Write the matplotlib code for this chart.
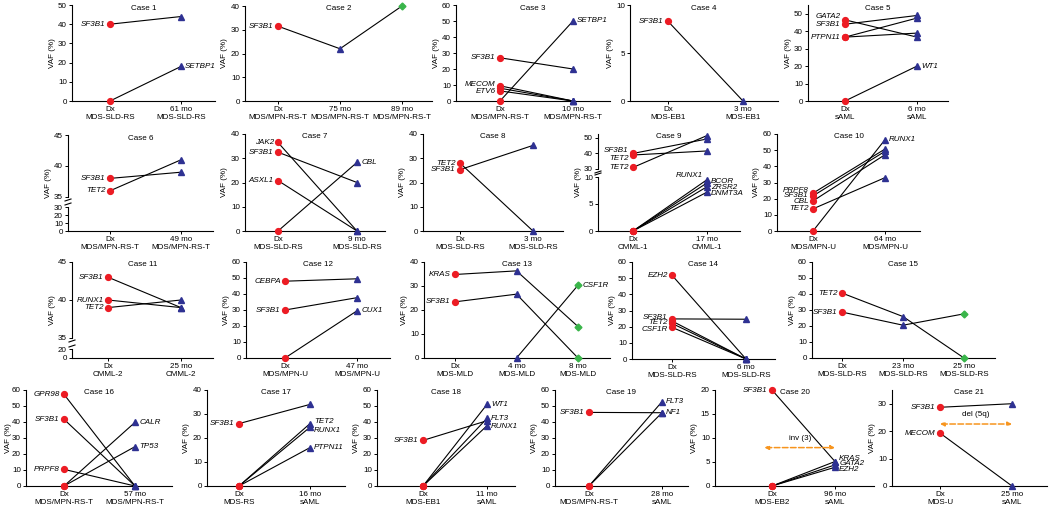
import matplotlib
matplotlib.use('Agg')
from matplotlib import pyplot as plt
from matplotlib.lines import Line2D

plt.rcParams['font.family'] = ['Liberation Sans', 'DejaVu Sans']
FS = 5.8
W, H = 1050, 509

RED = '#ec1c24'
NAVY = '#2e3192'
GREEN = '#39b54a'
ORANGE = '#f7941d'

# ---- data (VAF %, one value per time point, None = not measured) ----
case1_times = ['Dx\nMDS-SLD-RS', '61 mo\nMDS-SLD-RS']
case1_genes = ['SF3B1', 'SETBP1']
case1_vaf = [[40, 44], [0, 18]]

case2_times = ['Dx\nMDS/MPN-RS-T', '75 mo\nMDS/MPN-RS-T', '89 mo\nMDS/MPN-RS-T']
case2_genes = ['SF3B1']
case2_vaf = [[31.5, 22, 40]]

case3_times = ['Dx\nMDS/MPN-RS-T', '10 mo\nMDS/MPN-RS-T']
case3_genes = ['SF3B1', 'MECOM', '', 'ETV6', 'SETBP1']
case3_vaf = [[27, 20], [9.5, 0], [8, 0], [6.3, 0], [0, 50]]

case4_times = ['Dx\nMDS-EB1', '3 mo\nMDS-EB1']
case4_genes = ['SF3B1']
case4_vaf = [[8.3, 0]]

case5_times = ['Dx\nsAML', '6 mo\nsAML']
case5_genes = ['GATA2', 'SF3B1', 'PTPN11', '', 'WT1']
case5_vaf = [[46.5, 36.6], [44, 49], [36.6, 47.5], [36.6, 38.9], [0, 20]]

case6_times = ['Dx\nMDS/MPN-RS-T', '49 mo\nMDS/MPN-RS-T']
case6_genes = ['SF3B1', 'TET2']
case6_vaf = [[38, 39], [36, 41]]

case7_times = ['Dx\nMDS-SLD-RS', '9 mo\nMDS-SLD-RS']
case7_genes = ['JAK2', 'SF3B1', 'ASXL1', 'CBL']
case7_vaf = [[36.5, 0], [32.5, 20], [20.8, 0], [0, 28.3]]

case8_times = ['Dx\nMDS-SLD-RS', '3 mo\nMDS-SLD-RS']
case8_genes = ['TET2', 'SF3B1']
case8_vaf = [[28, 0], [25.3, 35.3]]

case9_times = ['Dx\nCMML-1', '17 mo\nCMML-1']
case9_genes = ['SF3B1', 'TET2', 'TET2', 'RUNX1', 'BCOR', 'ZRSR2', 'DNMT3A']
case9_vaf = [[40, 49.3], [39, 41.6], [31, 51.5],
             [0, 9.5], [0, 8.9], [0, 8.2], [0, 7.2]]

case10_times = ['Dx\nMDS/MPN-U', '64 mo\nMDS/MPN-U']
case10_genes = ['PRPF8', 'SF3B1', 'CBL', 'TET2', 'RUNX1']
case10_vaf = [[23.4, 50.7], [21.7, 49.3], [18.6, 47.2], [13.7, 33], [0, 56.5]]

case11_times = ['Dx\nCMML-2', '25 mo\nCMML-2']
case11_genes = ['SF3B1', 'RUNX1', 'TET2']
case11_vaf = [[43, 39], [40, 39], [39, 40]]

case12_times = ['Dx\nMDS/MPN-U', '47 mo\nMDS/MPN-U']
case12_genes = ['CEBPA', 'SF3B1', 'CUX1']
case12_vaf = [[48, 49.5], [30, 37.7], [0, 29.5]]

case13_times = ['Dx\nMDS-MLD', '4 mo\nMDS-MLD', '8 mo\nMDS-MLD']
case13_genes = ['KRAS', 'SF3B1', 'CSF1R']
case13_vaf = [[34.8, 36.3, 13.1], [23.4, 26.6, 0], [None, 0, 30.3]]

case14_times = ['Dx\nMDS-SLD-RS', '6 mo\nMDS-SLD-RS']
case14_genes = ['EZH2', 'SF3B1', 'TET2', '', 'CSF1R']
case14_vaf = [[51.8, 0], [24.8, 24.6], [23.5, 0], [22, 0], [19.6, 0]]

case15_times = ['Dx\nMDS-SLD-RS', '23 mo\nMDS-SLD-RS', '25 mo\nMDS-SLD-RS']
case15_genes = ['TET2', 'SF3B1']
case15_vaf = [[40.6, 25.9, 0], [28.7, 20.5, 27.6]]

case16_times = ['Dx\nMDS/MPN-RS-T', '57 mo\nMDS/MPN-RS-T']
case16_genes = ['GPR98', 'SF3B1', 'PRPF8', 'CALR', 'TP53']
case16_vaf = [[57.3, 0], [41.7, 0], [10.4, 0], [0, 39.8], [0, 24.6]]

case17_times = ['Dx\nMDS-RS', '16 mo\nsAML']
case17_genes = ['SF3B1', 'TET2', 'RUNX1', 'PTPN11']
case17_vaf = [[26, 34], [0, 26], [0, 24.5], [0, 16]]

case18_times = ['Dx\nMDS-EB1', '11 mo\nsAML']
case18_genes = ['SF3B1', 'WT1', 'FLT3', 'RUNX1']
case18_vaf = [[28.5, 40.8], [0, 51], [0, 42.3], [0, 37.7]]

case19_times = ['Dx\nMDS/MPN-RS-T', '28 mo\nsAML']
case19_genes = ['SF3B1', 'FLT3', 'NF1']
case19_vaf = [[46, 45.8], [0, 52.7], [0, 45.8]]

case20_times = ['Dx\nMDS-EB2', '96 mo\nsAML']
case20_genes = ['SF3B1', 'KRAS', 'GATA2', 'EZH2']
case20_vaf = [[20, 5.1], [0, 5.1], [0, 4.4], [0, 3.9]]
case20_event = ('inv (3)', 8)

case21_times = ['Dx\nMDS-U', '25 mo\nsAML']
case21_genes = ['SF3B1', 'MECOM']
case21_vaf = [[28.7, 30], [19.3, 0]]
case21_event = ('del (5q)', 22.6)

# ---- layout: box = (spine px, first point px, last point px, axis end px)
panels = [
    dict(title='Case 1', times=case1_times, genes=case1_genes, vaf=case1_vaf,
         sides='LR', box=(72, 110, 181, 215), rows=(5, 101), ylim=(0, 50), yticks=range(0, 51, 10)),
    dict(title='Case 2', times=case2_times, genes=case2_genes, vaf=case2_vaf,
         sides='L', box=(245, 278, 402, 432), rows=(6, 101), ylim=(0, 40), yticks=range(0, 41, 10)),
    dict(title='Case 3', times=case3_times, genes=case3_genes, vaf=case3_vaf,
         sides='LL-LR', box=(456, 500, 573, 610), rows=(5, 101), ylim=(0, 60), yticks=range(0, 61, 10),
         laby={1: 10, 3: 5.8}),
    dict(title='Case 4', times=case4_times, genes=case4_genes, vaf=case4_vaf,
         sides='L', box=(630, 668, 743, 778), rows=(5, 101), ylim=(0, 10), yticks=[0, 5, 10]),
    dict(title='Case 5', times=case5_times, genes=case5_genes, vaf=case5_vaf,
         sides='LLL-R', box=(808, 845, 917, 948), rows=(5, 101), ylim=(0, 55), yticks=range(0, 51, 10),
         laby={0: 48.6, 1: 43.6}),
    dict(title='Case 6', times=case6_times, genes=case6_genes, vaf=case6_vaf,
         sides='LL', box=(68, 110, 181, 213), rows=(135, 231),
         split=((35, 45), [35, 40, 45], 197, 207, (0, 30), [0, 10, 20, 30])),
    dict(title='Case 7', times=case7_times, genes=case7_genes, vaf=case7_vaf,
         sides='LLLR', box=(245, 278, 357, 385), rows=(134, 231), ylim=(0, 40), yticks=range(0, 41, 10)),
    dict(title='Case 8', times=case8_times, genes=case8_genes, vaf=case8_vaf,
         sides='LL', box=(423, 460, 533, 563), rows=(134, 231), ylim=(0, 40), yticks=range(0, 41, 10)),
    dict(title='Case 9', times=case9_times, genes=case9_genes, vaf=case9_vaf,
         sides='LLLERRR', box=(598, 633, 707, 740), rows=(134, 231),
         laby={0: 41.8, 1: 37, 2: 31, 3: 10.3, 4: 9.1, 5: 8.0, 6: 6.9},
         split=((30, 52.5), [30, 40, 50], 169, 177, (0, 10), [0, 5, 10])),
    dict(title='Case 10', times=case10_times, genes=case10_genes, vaf=case10_vaf,
         sides='LLLLR', box=(777, 813, 885, 920), rows=(134, 231), ylim=(0, 60), yticks=range(0, 61, 10),
         laby={0: 25.3, 1: 21.9, 2: 18.2, 3: 13.8}),
    dict(title='Case 11', times=case11_times, genes=case11_genes, vaf=case11_vaf,
         sides='LLL', box=(72, 108, 181, 213), rows=(262, 358),
         split=((35, 45), [35, 40, 45], 338, 349, (0, 20), [0, 20])),
    dict(title='Case 12', times=case12_times, genes=case12_genes, vaf=case12_vaf,
         sides='LLR', box=(246, 285, 357, 390), rows=(262, 358), ylim=(0, 60), yticks=range(0, 61, 10)),
    dict(title='Case 13', times=case13_times, genes=case13_genes, vaf=case13_vaf,
         sides='LLR', box=(424, 455, 578, 610), rows=(262, 358), ylim=(0, 40), yticks=range(0, 41, 10)),
    dict(title='Case 14', times=case14_times, genes=case14_genes, vaf=case14_vaf,
         sides='LLL-L', box=(632, 672, 746, 775), rows=(262, 359), ylim=(0, 60), yticks=range(0, 61, 10),
         laby={1: 25.6, 2: 22.3, 4: 18.4}),
    dict(title='Case 15', times=case15_times, genes=case15_genes, vaf=case15_vaf,
         sides='LL', box=(812, 842, 964, 995), rows=(262, 358), ylim=(0, 60), yticks=range(0, 61, 10)),
    dict(title='Case 16', times=case16_times, genes=case16_genes, vaf=case16_vaf,
         sides='LLLRR', box=(26, 64, 135, 172), rows=(390, 486), ylim=(0, 60), yticks=range(0, 61, 10),
         vafx=18),
    dict(title='Case 17', times=case17_times, genes=case17_genes, vaf=case17_vaf,
         sides='LRRR', box=(207, 239, 310, 345), rows=(390, 486), ylim=(0, 40), yticks=range(0, 41, 10),
         laby={1: 26.7, 2: 23}),
    dict(title='Case 18', times=case18_times, genes=case18_genes, vaf=case18_vaf,
         sides='LRRR', box=(377, 423, 487, 515), rows=(390, 486), ylim=(0, 60), yticks=range(0, 61, 10),
         laby={2: 42.5, 3: 37.3}),
    dict(title='Case 19', times=case19_times, genes=case19_genes, vaf=case19_vaf,
         sides='LRR', box=(555, 589, 662, 688), rows=(390, 486), ylim=(0, 60), yticks=range(0, 61, 10)),
    dict(title='Case 20', times=case20_times, genes=case20_genes, vaf=case20_vaf,
         sides='LRRR', box=(715, 772, 835, 874), rows=(390, 486), ylim=(0, 20), yticks=range(0, 21, 5),
         laby={1: 5.8, 2: 4.7, 3: 3.5}, event=case20_event, ev_x=(-0.12, 1.0)),
    dict(title='Case 21', times=case21_times, genes=case21_genes, vaf=case21_vaf,
         sides='LL', box=(892, 940, 1012, 1047), rows=(390, 486), ylim=(0, 35), yticks=range(0, 31, 10),
         event=case21_event, ev_x=(0.0, 1.0)),
]

MARKERS = [('o', RED, 4.2), ('^', NAVY, 4.8), ('D', GREEN, 3.5)]

fig = plt.figure(figsize=(W / 100, H / 100), dpi=100)


def px_axes(x0, x1, y0, y1):
    return fig.add_axes([x0 / W, 1 - y1 / H, (x1 - x0) / W, (y1 - y0) / H])


def style(ax, bottom=True):
    ax.spines['top'].set_visible(False)
    ax.spines['right'].set_visible(False)
    ax.spines['left'].set_linewidth(0.8)
    ax.spines['bottom'].set_linewidth(0.8)
    ax.tick_params(labelsize=FS, length=2.5, width=0.7, pad=1.2)
    ax.patch.set_alpha(0)
    if not bottom:
        ax.spines['bottom'].set_visible(False)
        ax.tick_params(axis='x', bottom=False, labelbottom=False)


def draw_series(ax, vals):
    xs = [i for i, v in enumerate(vals) if v is not None]
    ys = [v for v in vals if v is not None]
    ax.plot(xs, ys, color='k', lw=0.8, zorder=2, clip_on=False)
    for x, y in zip(xs, ys):
        m, c, s = MARKERS[x]
        ax.plot(x, y, marker=m, color=c, mec=c, ms=s, ls='none', zorder=3, clip_on=False)


def gene_label(ax, gene, x, y, left):
    ax.annotate(gene, (x, y), xytext=(-3 if left else 3, 0), textcoords='offset points',
                ha='right' if left else 'left', va='center', fontsize=FS, style='italic',
                annotation_clip=False)


for p in panels:
    spine, first, last, end = p['box']
    top, bottom = p['rows']
    n = len(p['times'])
    step = (last - first) / (n - 1)
    xlim = ((spine - first) / step, (end - first) / step)

    if 'split' in p:
        ylim_u, ticks_u, ub, lt, ylim_l, ticks_l = p['split']
        ax_u = px_axes(spine, end, top, ub)
        ax_l = px_axes(spine, end, lt, bottom)
        ax_u.set_ylim(*ylim_u); ax_u.set_yticks(ticks_u)
        ax_l.set_ylim(*ylim_l); ax_l.set_yticks(ticks_l)
        style(ax_u, bottom=False)
        style(ax_l)
        axes_for = lambda vals: ax_u if max(v for v in vals if v is not None) >= ylim_u[0] else ax_l
        # break marks on the y axis
        for yy in (ub + 3, lt - 3):
            fig.add_artist(Line2D([(spine - 3) / W, (spine + 3) / W], [1 - (yy + 1) / H, 1 - (yy - 1) / H],
                                  color='k', lw=0.8))
        ax_top, ax_bot = ax_u, ax_l
        for a in (ax_u, ax_l):
            a.set_xlim(*xlim)
    else:
        ax = px_axes(spine, end, top, bottom)
        ax.set_ylim(*p['ylim'])
        ax.set_yticks(list(p['yticks']))
        ax.set_xlim(*xlim)
        style(ax)
        axes_for = lambda vals, ax=ax: ax
        ax_top = ax_bot = ax

    ax_bot.set_xticks(range(n))
    ax_bot.set_xticklabels(p['times'], fontsize=FS, linespacing=1.15)

    laby = p.get('laby', {})
    for k, (gene, vals) in enumerate(zip(p['genes'], p['vaf'])):
        a = axes_for(vals)
        draw_series(a, vals)
        side = p['sides'][k]
        idx = [i for i, v in enumerate(vals) if v is not None]
        if side == 'L':
            gene_label(a, gene, idx[0], laby.get(k, vals[idx[0]]), True)
        elif side == 'R':
            gene_label(a, gene, idx[-1], laby.get(k, vals[idx[-1]]), False)
        elif side == 'E':
            gene_label(a, gene, idx[-1], laby.get(k, vals[idx[-1]]), True)

    if 'event' in p:
        txt, yv = p['event']
        x0, x1 = p['ev_x']
        ax_top.annotate('', xy=(x1, yv), xytext=(x0, yv),
                        arrowprops=dict(arrowstyle='<|-|>', color=ORANGE, lw=1.1, ls='--',
                                        mutation_scale=6, shrinkA=0, shrinkB=0))
        ax_top.annotate(txt, ((x0 + x1) / 2, yv), xytext=(0, 4), textcoords='offset points',
                        ha='center', va='bottom', fontsize=FS)

    fig.text((spine + end) / 2 / W, 1 - (top + 3) / H, p['title'], ha='center', va='center', fontsize=FS)
    fig.text((spine - p.get('vafx', 20)) / W, 1 - (top + bottom) / 2 / H, 'VAF (%)', rotation=90,
             ha='center', va='center', fontsize=FS)

fig.savefig('out.png', dpi=100)
